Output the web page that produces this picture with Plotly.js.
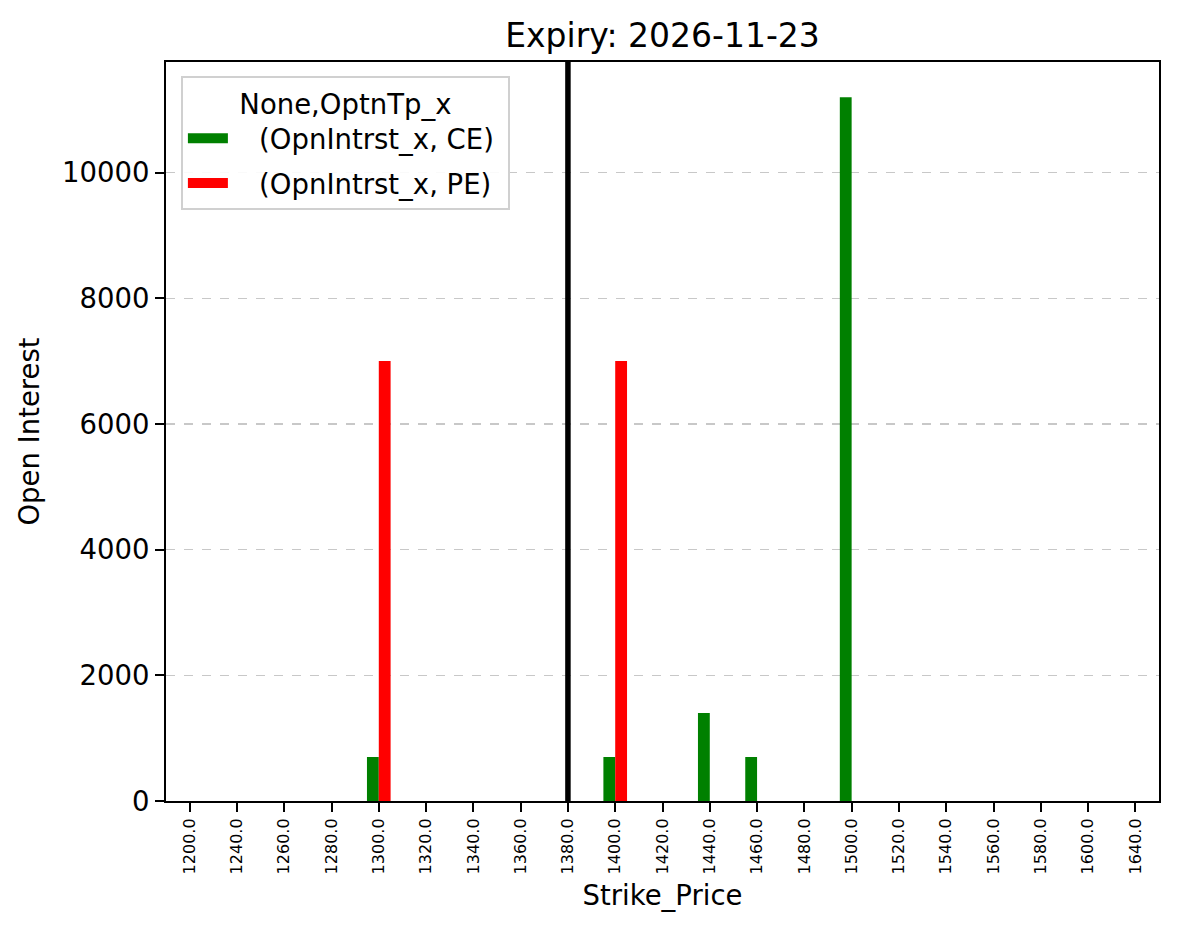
<!DOCTYPE html>
<html>
<head>
<meta charset="utf-8">
<script src="https://cdn.plot.ly/plotly-3.0.1.min.js"></script>
<style>html,body{margin:0;padding:0;background:#fff;}#chart{width:1179px;height:939px;}</style>
</head>
<body>
<div id="chart"></div>
<script>
const strikes = ['1200.0','1240.0','1260.0','1280.0','1300.0','1320.0','1340.0','1360.0','1380.0','1400.0','1420.0','1440.0','1460.0','1480.0','1500.0','1520.0','1540.0','1560.0','1580.0','1600.0','1640.0'];
const ceOI = [0,0,0,0,700,0,0,0,0,700,0,1400,700,0,11200,0,0,0,0,0,0];
const peOI = [0,0,0,0,7000,0,0,0,0,7000,0,0,0,0,0,0,0,0,0,0,0];
const spotStrike = '1380.0';
const yTicks = [0,2000,4000,6000,8000,10000];
const yTickLabels = ['0','2000','4000','6000','8000','10000'];
const titleText = 'Expiry: 2026-11-23';
const legendTitle = 'None,OptnTp_x';
const seriesNames = ['(OpnIntrst_x, CE)', '(OpnIntrst_x, PE)'];
const seriesColors = ['#008000', '#ff0000'];

const font = 'DejaVu Sans, sans-serif';
const traces = [
  {type:'bar', x:strikes, y:ceOI, name:seriesNames[0], showlegend:false, marker:{color:seriesColors[0], line:{width:0}}},
  {type:'bar', x:strikes, y:peOI, name:seriesNames[1], showlegend:false, marker:{color:seriesColors[1], line:{width:0}}},
  {type:'scatter', mode:'lines', x:[null], y:[null], name:'   ' + seriesNames[0] + ' ', legendgroup:'ce', line:{color:seriesColors[0], width:20}, hoverinfo:'skip'},
  {type:'scatter', mode:'lines', x:[null], y:[null], name:'   ' + seriesNames[1] + ' ', legendgroup:'pe', line:{color:seriesColors[1], width:20}, hoverinfo:'skip'}
];
const spotIdx = strikes.indexOf(spotStrike);
const layout = {
  width:1179, height:939,
  paper_bgcolor:'#fff', plot_bgcolor:'#fff',
  margin:{l:166, r:20, t:62, b:138},
  font:{family:font, color:'#000'},
  title:{text:titleText, x:0.5, xref:'paper', xanchor:'center', y:0.962, yanchor:'middle', font:{size:33, family:font}},
  barmode:'group', bargap:0.5, bargroupgap:0,
  xaxis:{
    type:'category', range:[-0.5, strikes.length-0.5],
    tickangle:-90, tickfont:{size:16, family:font},
    ticks:'outside', ticklen:9, tickwidth:2, tickcolor:'#000',
    showline:true, linecolor:'#000', linewidth:2, mirror:true,
    showgrid:false, zeroline:false,
    title:{text:'Strike_Price', font:{size:27.5, family:font}, standoff:12}
  },
  yaxis:{
    range:[0, 11760], tickvals:yTicks, ticktext:yTickLabels,
    tickfont:{size:27.5, family:font},
    ticks:'outside', ticklen:9, tickwidth:2, tickcolor:'#000',
    showline:true, linecolor:'#000', linewidth:2, mirror:true,
    showgrid:true, gridcolor:'#c8c8c8', griddash:'dash', gridwidth:1.5,
    zeroline:false,
    title:{text:'Open Interest', font:{size:27.5, family:font}, standoff:14}
  },
  legend:{
    x:0.015, y:0.981, xanchor:'left', yanchor:'top',
    bgcolor:'rgba(255,255,255,0.9)', bordercolor:'#d0d0d0', borderwidth:2,
    font:{size:27.5, family:font},
    title:{text:legendTitle, side:'top center', font:{size:27.5, family:font}},
    itemwidth:40, tracegroupgap:6
  },
  shapes:[{
    type:'line', xref:'x', yref:'paper', x0:spotIdx, x1:spotIdx, y0:0, y1:1,
    line:{color:'#000', width:5.5}
  }]
};
Plotly.newPlot('chart', traces, layout, {displayModeBar:false, staticPlot:true});
</script>
</body>
</html>
